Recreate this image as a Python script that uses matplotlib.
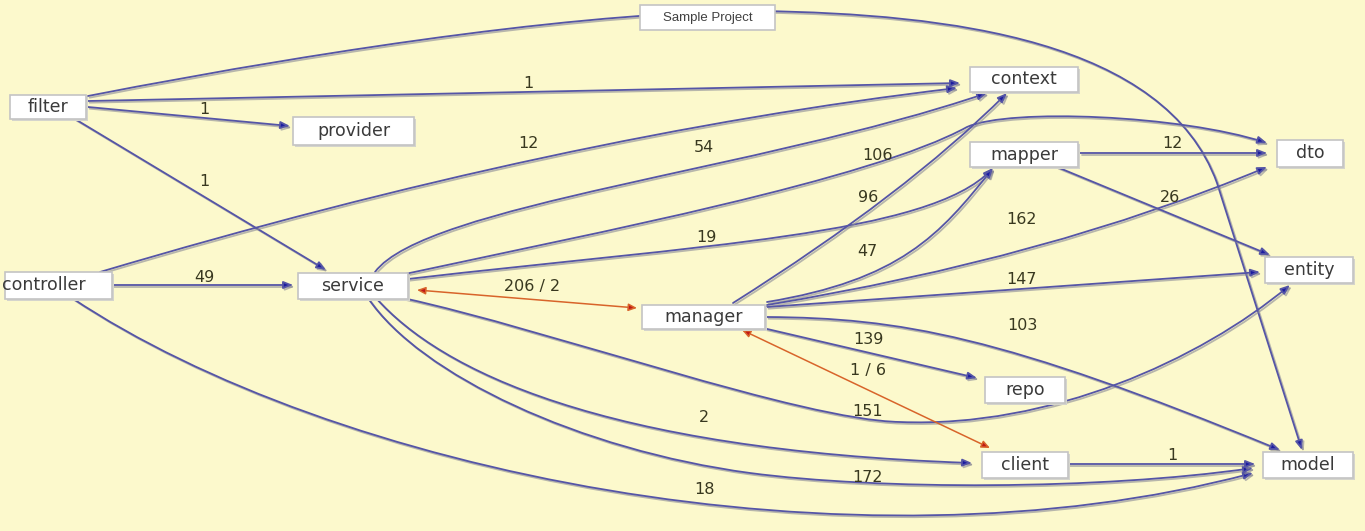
import matplotlib
matplotlib.use("Agg")
import matplotlib.pyplot as plt
import matplotlib.patheffects as pe
from matplotlib.path import Path
from matplotlib.patches import FancyArrowPatch, Rectangle

# ---- graph content ----
title = "Sample Project"

nodes = ["filter", "provider", "controller", "service", "manager", "context",
         "mapper", "repo", "client", "dto", "entity", "model"]

edge_src = ["filter", "filter", "filter", "filter",
            "controller", "controller", "controller",
            "service", "service", "service", "service", "service", "service", "service",
            "manager", "manager", "manager", "manager", "manager", "manager", "manager",
            "mapper", "mapper", "client"]
edge_dst = ["context", "provider", "service", "model",
            "context", "service", "model",
            "context", "dto", "mapper", "manager", "entity", "client", "model",
            "context", "mapper", "dto", "entity", "model", "repo", "client",
            "dto", "entity", "model"]
edge_labels = ["1", "1", "1", "",
               "12", "49", "18",
               "54", "106", "19", "206 / 2", "151", "2", "172",
               "96", "47", "162", "147", "103", "139", "1 / 6",
               "12", "26", "1"]

# ---- layout (pixels, y downwards) ----
node_box = {
    "filter": (10, 95, 86, 119),
    "provider": (293, 117, 414, 145),
    "controller": (5, 272, 112, 299),
    "service": (298, 273, 408, 299),
    "manager": (642, 305, 765, 329),
    "context": (970, 67, 1078, 92),
    "mapper": (970, 142, 1078, 167),
    "repo": (985, 377, 1065, 403),
    "client": (982, 452, 1068, 478),
    "dto": (1277, 140, 1343, 167),
    "entity": (1265, 257, 1353, 283),
    "model": (1263, 452, 1353, 478),
}
node_text_x = {"controller": 44}
title_box = (640, 5, 775, 30)

label_xy = [(528, 83), (204, 110), (204, 182), None,
            (528, 143), (204, 277), (705, 489),
            (704, 148), (878, 156), (706, 238), (532, 287), (868, 411), (704, 418), (868, 477),
            (868, 197), (867, 252), (1022, 220), (1022, 279), (1022, 326), (868, 340), (868, 370),
            (1172, 144), (1170, 198), (1172, 455)]

# start point, then segments (1 pt = line, 2 = quadratic, 3 = cubic)
edge_geom = [
    ((88, 101), [((960, 83),)]),
    ((88, 107), [((290, 126),)]),
    ((75, 119), [((326, 270),)]),
    ((88, 96), [((350, 45), (600, 11), (760, 11)),
                ((950, 14), (1165, 40), (1217, 183)),
                ((1302, 450),)]),
    ((100, 272), [((560, 135), (957, 88))]),
    ((112, 285), [((293, 285),)]),
    ((72, 298), [((330, 470), (850, 580), (1253, 473))]),
    ((375, 272), [((425, 205), (760, 170), (987, 93))]),
    ((405, 274), [((600, 232), (870, 180), (967, 127)),
                  ((1010, 108), (1180, 115), (1267, 143))]),
    ((408, 279), [((700, 245), (930, 235), (993, 168))]),
    ((417, 290), [((637, 308),)]),
    ((403, 298), [((550, 330), (800, 420), (900, 422)),
                  ((1050, 428), (1200, 360), (1290, 285))]),
    ((376, 298), [((440, 370), (600, 450), (972, 463))]),
    ((368, 298), [((420, 375), (580, 450), (750, 473)),
                  ((878, 490), (1100, 490), (1253, 468))]),
    ((733, 303), [((906, 194), (1007, 93))]),
    ((767, 302), [((900, 280), (940, 235), (993, 168))]),
    ((767, 305), [((1050, 258), (1267, 167))]),
    ((767, 307), [((1260, 272),)]),
    ((767, 317), [((900, 318), (1000, 335), (1280, 450))]),
    ((763, 328), [((977, 378),)]),
    ((742, 330), [((990, 448),)]),
    ((1080, 153), [((1267, 153),)]),
    ((1057, 167), [((1270, 255),)]),
    ((1068, 464), [((1255, 464),)]),
]

bg = "#fcf9cc"
line_col = "#5555a6"
head_col = "#1c1ca0"
red_line = "#d8642a"
red_head = "#c01818"
label_col = "#38381f"


def edge_path(start, segs):
    verts = [start]
    codes = [Path.MOVETO]
    kinds = {1: Path.LINETO, 2: Path.CURVE3, 3: Path.CURVE4}
    for seg in segs:
        verts += list(seg)
        codes += [kinds[len(seg)]] * len(seg)
    return Path(verts, codes)


fig = plt.figure(figsize=(13.65, 5.31), dpi=100)
fig.patch.set_facecolor(bg)
ax = fig.add_axes([0, 0, 1, 1])
ax.set_xlim(0, 1365)
ax.set_ylim(531, 0)
ax.axis("off")

shadow = [pe.SimpleLineShadow(offset=(1.2, -1.2), shadow_color="#8a8a96", alpha=0.6),
          pe.Normal()]

for i, (start, segs) in enumerate(edge_geom):
    two_way = "/" in edge_labels[i]
    p = edge_path(start, segs)
    if two_way:
        arr = FancyArrowPatch(path=p, arrowstyle="<|-|>,head_length=0.5,head_width=0.22",
                              mutation_scale=10, edgecolor=red_line, facecolor=red_head,
                              lw=1.1, zorder=1)
    else:
        arr = FancyArrowPatch(path=p, arrowstyle="-|>,head_length=0.55,head_width=0.22",
                              mutation_scale=10, edgecolor=line_col, facecolor=head_col,
                              lw=1.3, zorder=1, path_effects=shadow)
    ax.add_patch(arr)
    if edge_labels[i]:
        lx, ly = label_xy[i]
        ax.text(lx, ly, edge_labels[i], ha="center", va="center", fontsize=11.5,
                color=label_col, zorder=4)

for name in nodes:
    x0, y0, x1, y1 = node_box[name]
    ax.add_patch(Rectangle((x0 + 2, y0 + 2), x1 - x0, y1 - y0, facecolor="#d4d4cc",
                           edgecolor="none", zorder=2))
    ax.add_patch(Rectangle((x0, y0), x1 - x0, y1 - y0, facecolor="white",
                           edgecolor="#c4c4c4", lw=1.2, zorder=2))
    cx = node_text_x.get(name, (x0 + x1) / 2)
    ax.text(cx, (y0 + y1) / 2, name, ha="center", va="center", fontsize=12.5,
            color="#3a3a3a", zorder=3)

x0, y0, x1, y1 = title_box
ax.add_patch(Rectangle((x0, y0), x1 - x0, y1 - y0, facecolor="white",
                       edgecolor="#c4c4c4", lw=1.2, zorder=2))
ax.text((x0 + x1) / 2, (y0 + y1) / 2, title, ha="center", va="center", fontsize=9.5,
        family="Liberation Sans", color="#404040", zorder=3)

fig.savefig("out.png", dpi=100, facecolor=bg)
